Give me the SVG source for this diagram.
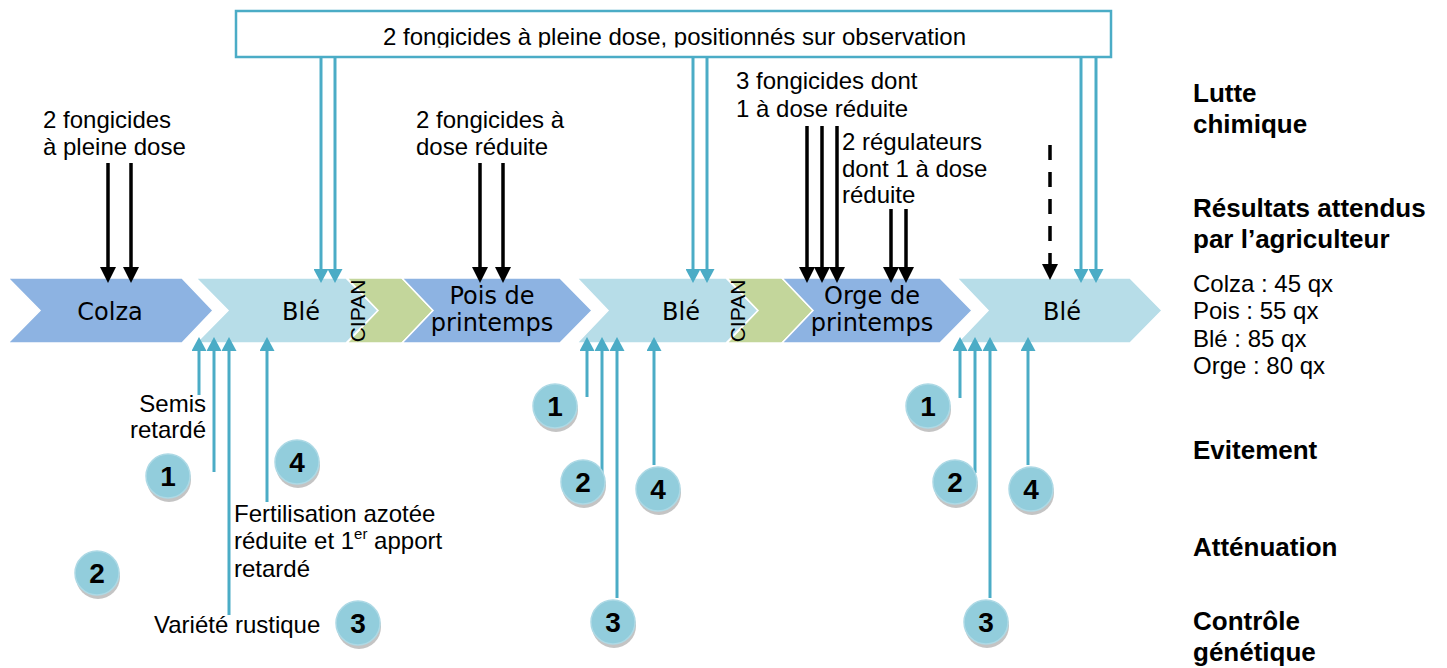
<svg xmlns="http://www.w3.org/2000/svg" width="1447" height="668" viewBox="0 0 1447 668">
<style>
.t{font-family:"Liberation Sans",Arial,sans-serif;font-size:24px;fill:#000}
.b{font-family:"Liberation Sans",Arial,sans-serif;font-size:26px;font-weight:bold;fill:#000}
.c{font-family:"DejaVu Sans",Verdana,sans-serif;font-size:24px;fill:#000;text-anchor:middle}
.v{font-family:"Liberation Sans",Arial,sans-serif;font-size:21px;fill:#000;text-anchor:middle}
.dark{fill:#8DB3E2;stroke:#fff;stroke-width:1.5}
.light{fill:#B7DDE8;stroke:#fff;stroke-width:1.5}
.green{fill:#C3D69B;stroke:#fff;stroke-width:1.5}
.ca{stroke:#4BACC6;stroke-width:3;fill:none;marker-end:url(#mc)}
.ka{stroke:#000;stroke-width:3.5;fill:none;marker-end:url(#mk)}
.kd{stroke:#000;stroke-width:3.5;fill:none;stroke-dasharray:15 12;marker-end:url(#mk)}
.sh{fill:#C4C4C4}
.ci{fill:#92CDDC;stroke:#ADD9E5;stroke-width:1.5}
.n{font-family:"Liberation Sans",Arial,sans-serif;font-size:28px;font-weight:bold;fill:#000;text-anchor:middle}
</style>
<defs>
<marker id="mc" markerUnits="userSpaceOnUse" markerWidth="15" markerHeight="15" refX="8" refY="7.5" orient="auto" viewBox="0 0 15 15">
<path d="M0,0 L14,7.5 L0,15 z" fill="#4BACC6"/>
</marker>
<marker id="mk" markerUnits="userSpaceOnUse" markerWidth="17" markerHeight="16" refX="10" refY="8" orient="auto" viewBox="0 0 17 16">
<path d="M0,0 L16,8 L0,16 z" fill="#000"/>
</marker>
<clipPath id="bclip"><rect x="236" y="11" width="875" height="36.5"/></clipPath>
</defs>
<rect width="1447" height="668" fill="#fff"/>

<g id="chevrons">
<g id="colza"><polygon class="dark" points="8,278 182,278 213,310.5 182,343 8,343 40,310.5"/><text class="c" x="110" y="320">Colza</text></g>
<g id="ble1"><polygon class="light" points="196,278 346,278 378,310.5 346,343 196,343 228,310.5"/><text class="c" x="301" y="320">Blé</text></g>
<g id="cipan1"><polygon class="green" points="347,278 402,278 433,310.5 402,343 347,343 378,310.5"/><text class="v" transform="translate(365,311) rotate(-90)">CIPAN</text></g>
<g id="pois"><polygon class="dark" points="402,278 560,278 592,310.5 560,343 402,343 433,310.5"/><text class="c" x="492" y="304">Pois de</text><text class="c" x="492" y="331">printemps</text></g>
<g id="ble2"><polygon class="light" points="577,278 726,278 758,310.5 726,343 577,343 608,310.5"/><text class="c" x="681" y="320">Blé</text></g>
<g id="cipan2"><polygon class="green" points="727,278 782,278 813,310.5 782,343 727,343 758,310.5"/><text class="v" transform="translate(745,311) rotate(-90)">CIPAN</text></g>
<g id="orge"><polygon class="dark" points="782,278 940,278 972,310.5 940,343 782,343 813,310.5"/><text class="c" x="872" y="304">Orge de</text><text class="c" x="872" y="331">printemps</text></g>
<g id="ble3"><polygon class="light" points="957,278 1130,278 1162,310.5 1130,343 957,343 988,310.5"/><text class="c" x="1062" y="320">Blé</text></g>
</g>

<g id="banner">
<rect x="236" y="11" width="875" height="46" fill="#fff" stroke="#4BACC6" stroke-width="2.5"/>
<text class="t" x="383" y="45" clip-path="url(#bclip)">2 fongicides à pleine dose, positionnés sur observation</text>
</g>

<g id="connectors">
<line class="ca" x1="321" y1="58" x2="321" y2="277"/>
<line class="ca" x1="335" y1="58" x2="335" y2="277"/>
<line class="ca" x1="693" y1="58" x2="693" y2="277"/>
<line class="ca" x1="707" y1="58" x2="707" y2="277"/>
<line class="ca" x1="1081" y1="58" x2="1081" y2="277"/>
<line class="ca" x1="1096" y1="58" x2="1096" y2="277"/>
<line class="ka" x1="108" y1="163" x2="108" y2="277"/>
<line class="ka" x1="131" y1="163" x2="131" y2="277"/>
<line class="ka" x1="480" y1="163" x2="480" y2="277"/>
<line class="ka" x1="503" y1="163" x2="503" y2="277"/>
<line class="ka" x1="807" y1="126" x2="807" y2="277"/>
<line class="ka" x1="822" y1="126" x2="822" y2="277"/>
<line class="ka" x1="837" y1="126" x2="837" y2="277"/>
<line class="ka" x1="891" y1="209" x2="891" y2="277"/>
<line class="ka" x1="906" y1="209" x2="906" y2="277"/>
<line class="kd" x1="1050" y1="145" x2="1050" y2="274"/>
<line class="ca" x1="199" y1="395" x2="199" y2="343"/>
<line class="ca" x1="214" y1="472" x2="214" y2="343"/>
<line class="ca" x1="229" y1="615" x2="229" y2="343"/>
<line class="ca" x1="267" y1="502" x2="267" y2="343"/>
<line class="ca" x1="587" y1="397" x2="587" y2="343"/>
<line class="ca" x1="602" y1="473" x2="602" y2="343"/>
<line class="ca" x1="617" y1="598" x2="617" y2="343"/>
<line class="ca" x1="654" y1="465" x2="654" y2="343"/>
<line class="ca" x1="960" y1="398" x2="960" y2="343"/>
<line class="ca" x1="975" y1="473" x2="975" y2="343"/>
<line class="ca" x1="990" y1="598" x2="990" y2="343"/>
<line class="ca" x1="1028" y1="465" x2="1028" y2="343"/>
</g>

<g id="labels">
<g id="lbl-colza"><text class="t" x="43" y="128">2 fongicides</text><text class="t" x="43" y="155">à pleine dose</text></g>
<g id="lbl-pois"><text class="t" x="416" y="128">2 fongicides à</text><text class="t" x="416" y="155">dose réduite</text></g>
<g id="lbl-orge1"><text class="t" x="736" y="89">3 fongicides dont</text><text class="t" x="736" y="117">1 à dose réduite</text></g>
<g id="lbl-orge2"><text class="t" x="842" y="150">2 régulateurs</text><text class="t" x="842" y="177">dont 1 à dose</text><text class="t" x="842" y="203">réduite</text></g>
<g id="lbl-semis"><text class="t" x="206" y="412" text-anchor="end">Semis</text><text class="t" x="206" y="438" text-anchor="end">retardé</text></g>
<g id="lbl-ferti"><text class="t" x="234" y="522">Fertilisation azotée</text><text class="t" x="234" y="549">réduite et 1<tspan font-size="15" dy="-10">er</tspan><tspan dy="10"> apport</tspan></text><text class="t" x="234" y="577">retardé</text></g>
<g id="lbl-variete"><text class="t" x="154" y="633">Variété rustique</text></g>
</g>

<g id="legend">
<g id="leg-lutte"><text class="b" x="1193" y="102">Lutte</text><text class="b" x="1193" y="133">chimique</text></g>
<g id="leg-resultats"><text class="b" x="1193" y="217">Résultats attendus</text><text class="b" x="1193" y="248">par l’agriculteur</text></g>
<g id="leg-rdt"><text class="t" x="1193" y="292">Colza : 45 qx</text><text class="t" x="1193" y="319">Pois : 55 qx</text><text class="t" x="1193" y="347">Blé : 85 qx</text><text class="t" x="1193" y="374">Orge : 80 qx</text></g>
<g id="leg-evit"><text class="b" x="1193" y="459">Evitement</text></g>
<g id="leg-att"><text class="b" x="1193" y="556">Atténuation</text></g>
<g id="leg-gen"><text class="b" x="1193" y="630">Contrôle</text><text class="b" x="1193" y="661">génétique</text></g>
</g>

<g id="badges">
<g id="b1a"><circle class="sh" cx="169" cy="480" r="22"/><circle class="ci" cx="168" cy="476" r="22"/><text class="n" x="168" y="486">1</text></g>
<g id="b2a"><circle class="sh" cx="98" cy="577" r="22"/><circle class="ci" cx="97" cy="573" r="22"/><text class="n" x="97" y="583">2</text></g>
<g id="b4a"><circle class="sh" cx="298" cy="466" r="22"/><circle class="ci" cx="297" cy="462" r="22"/><text class="n" x="297" y="472">4</text></g>
<g id="b3a"><circle class="sh" cx="359" cy="627" r="22"/><circle class="ci" cx="358" cy="623" r="22"/><text class="n" x="358" y="633">3</text></g>
<g id="b1b"><circle class="sh" cx="556" cy="410" r="22"/><circle class="ci" cx="555" cy="406" r="22"/><text class="n" x="555" y="416">1</text></g>
<g id="b2b"><circle class="sh" cx="584" cy="486" r="22"/><circle class="ci" cx="583" cy="482" r="22"/><text class="n" x="583" y="492">2</text></g>
<g id="b4b"><circle class="sh" cx="659" cy="493" r="22"/><circle class="ci" cx="658" cy="489" r="22"/><text class="n" x="658" y="499">4</text></g>
<g id="b3b"><circle class="sh" cx="614" cy="626" r="22"/><circle class="ci" cx="613" cy="622" r="22"/><text class="n" x="613" y="632">3</text></g>
<g id="b1c"><circle class="sh" cx="929" cy="410" r="22"/><circle class="ci" cx="928" cy="406" r="22"/><text class="n" x="928" y="416">1</text></g>
<g id="b2c"><circle class="sh" cx="956" cy="486" r="22"/><circle class="ci" cx="955" cy="482" r="22"/><text class="n" x="955" y="492">2</text></g>
<g id="b4c"><circle class="sh" cx="1032" cy="493" r="22"/><circle class="ci" cx="1031" cy="489" r="22"/><text class="n" x="1031" y="499">4</text></g>
<g id="b3c"><circle class="sh" cx="987" cy="626" r="22"/><circle class="ci" cx="986" cy="622" r="22"/><text class="n" x="986" y="632">3</text></g>
</g>
</svg>
